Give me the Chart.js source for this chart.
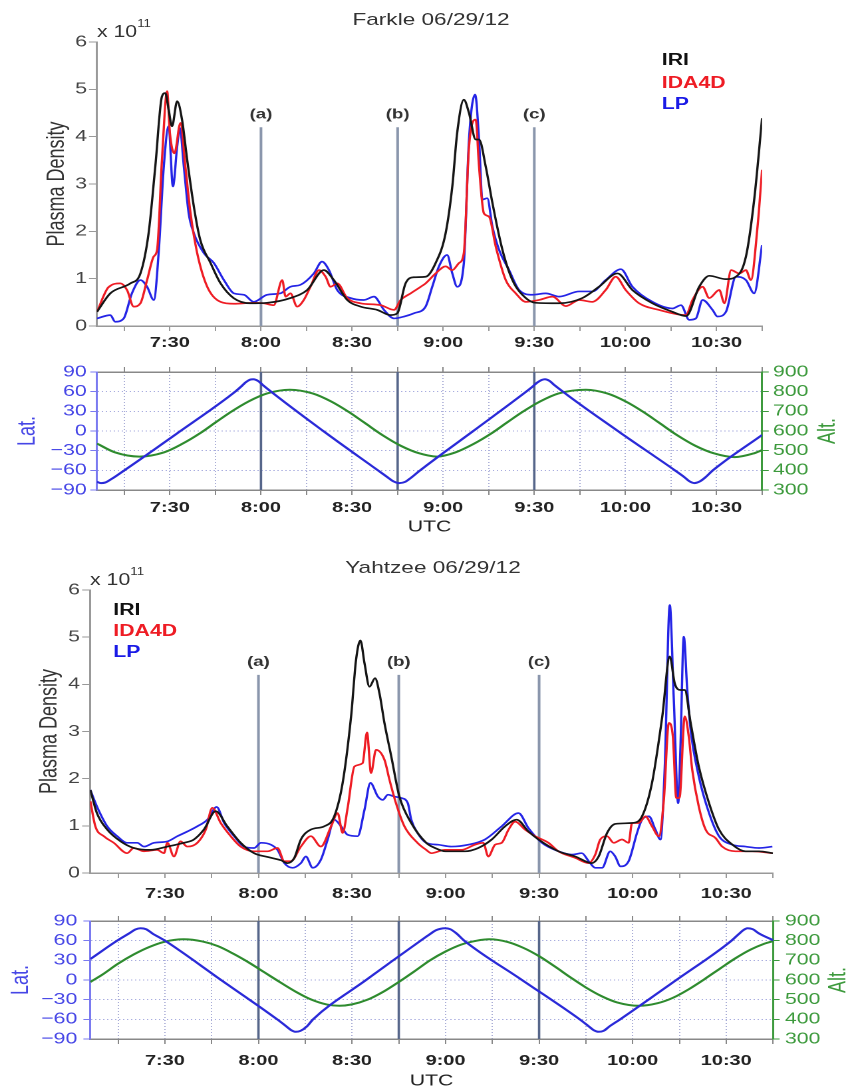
<!DOCTYPE html>
<html><head><meta charset="utf-8">
<script src="https://cdn.jsdelivr.net/npm/chart.js@4"></script>
<style>
html,body{margin:0;padding:0;background:#fff;}
body{width:850px;height:1091px;overflow:hidden;position:relative;font-family:"Liberation Sans",Arial,sans-serif;}
#wrap{position:absolute;left:0;top:0;width:639px;height:1091px;transform:scaleX(1.3302);transform-origin:0 0;}
#wrap canvas{position:absolute;left:0;}
.t{position:absolute;white-space:nowrap;line-height:20px;}
.lg{font-weight:bold;font-size:16px;}
.sup{font-size:10px;position:relative;top:-10px;}
</style></head>
<body><div id="wrap">
<canvas id="c1" width="639" height="360" style="top:0px"></canvas>
<canvas id="c2" width="639" height="185" style="top:355px"></canvas>
<canvas id="c3" width="639" height="360" style="top:545px"></canvas>
<canvas id="c4" width="639" height="186" style="top:905px"></canvas>

<div class="t" style="left:0;width:648px;text-align:center;top:10px;font-size:17px;color:#333">Farkle 06/29/12</div>
<div class="t" style="left:72.9px;top:21.5px;font-size:16px;color:#333">x 10<span class="sup">11</span></div>
<div class="t lg" style="left:497.5px;top:50px;color:#111">IRI</div>
<div class="t lg" style="left:497.5px;top:72.5px;color:#ee1c24">IDA4D</div>
<div class="t lg" style="left:497.5px;top:93.5px;color:#1a1ae6">LP</div>

<div class="t" style="left:0;width:651px;text-align:center;top:558px;font-size:17px;color:#333">Yahtzee 06/29/12</div>
<div class="t" style="left:67.7px;top:569.5px;font-size:16px;color:#333">x 10<span class="sup">11</span></div>
<div class="t lg" style="left:85.2px;top:600px;color:#111">IRI</div>
<div class="t lg" style="left:85.2px;top:620.7px;color:#ee1c24">IDA4D</div>
<div class="t lg" style="left:85.2px;top:641.7px;color:#1a1ae6">LP</div>
</div>
<script>
// ---- time axis (minutes after 7:00 UTC) ----
const X_MIN = 6, X_MAX = 225;
const tickMinutes = [15,30,45,60,75,90,105,120,135,150,165,180,195,210,225];
const markerTimes = [60, 105, 150];
const markerLabels = ['(a)', '(b)', '(c)'];
const markerTop = 4.2, markerLabelY = 4.47;

// ---- Farkle plasma density (x 10^11) ----
const farkleIriT = [6,10.4,17,20.3,23,25.2,27.4,28.5,29.6,30.7,
  32.4,34,35.7,37.9,40,43.4,46.7,51,56.5,62,
  69.7,75.2,80.7,84,88.4,92.8,98.3,102.7,104.9,107.6,
  110.4,114.2,117.5,120.8,123,124.6,126.8,128.5,130.7,131.8,
  134,136.2,139.5,142.8,147.2,150.5,158.2,165.8,171.3,177.4,
  182.3,188.9,195.5,200,204.3,207.6,213.1,216.4,219.7,222.4,225];
const farkleIriV = [0.30,0.69,0.90,1.11,1.96,3.37,4.85,4.92,4.57,4.22,
  4.75,4.36,3.51,2.52,1.82,1.33,0.90,0.59,0.48,0.49,
  0.59,0.76,1.18,0.97,0.55,0.41,0.34,0.23,0.27,0.90,
  1.03,1.04,1.33,1.96,2.95,4.08,4.78,4.50,3.94,3.94,
  3.37,2.60,1.61,0.97,0.59,0.49,0.48,0.59,0.83,1.11,
  0.76,0.48,0.30,0.21,0.83,1.06,0.99,1.04,1.47,2.67,4.39];
const farkleIdaT = [6,9.8,13.7,15.9,18.1,20.3,22.5,24.7,25.8,27.4,
  29.1,30,31.5,33.5,35.1,36.8,39,42.3,46.7,51.1,
  57.6,60.9,64.2,67,68.1,69.7,71.9,74.1,76.3,79.1,
  81.3,82.9,85.1,88.4,92.8,99.4,103.8,106,109.3,112.6,
  114.2,117.5,120.8,123,125.2,126.8,128.5,130.7,131.8,133.4,
  135.1,137.3,140.6,143.9,147.2,151.6,156,160.4,164.8,169.1,
  173.5,176.8,180.1,184.5,191.1,199.9,202.1,205.4,207.6,210.9,
  212.6,214.8,217.5,219.7,221.3,223.5,225];
const farkleIdaV = [0.30,0.82,0.90,0.76,0.41,0.48,0.97,1.47,1.61,3.51,
  4.96,4.08,3.65,4.29,3.37,2.38,1.54,0.83,0.51,0.47,
  0.49,0.48,0.44,0.97,0.62,0.69,0.41,0.55,0.83,1.18,
  1.04,0.83,0.90,0.59,0.48,0.44,0.34,0.55,0.69,0.83,
  0.90,1.11,1.26,1.18,1.33,1.54,3.79,4.36,3.37,2.38,
  2.31,1.68,0.97,0.69,0.51,0.55,0.62,0.42,0.55,0.51,
  0.76,1.04,0.76,0.48,0.34,0.23,0.55,0.83,0.59,0.76,
  0.48,1.18,1.11,1.18,0.97,2.10,3.30];
const farkleLpT = [6,10.4,12,14.8,17.5,20.3,22.5,24.7,26.3,28,
  29.6,31,32.4,33.3,34.6,36.2,37.9,41.2,44.5,47.8,
  51.1,54.4,57.6,62,66.4,69.7,73,77.4,80.1,82.4,
  85.1,89.5,93.9,97.2,100.5,103.8,107.1,110.4,114.2,116.4,
  118.6,121.3,123,124.6,126.8,128.5,130.5,131.8,132.9,134.5,
  136.2,138.4,141.7,145,149.4,153.8,158.2,164.8,169.1,173.5,
  178.5,182.3,188.9,195.5,198.3,201,203.2,205.4,208.7,210.3,
  213.1,216.4,219.7,222.4,225];
const farkleLpV = [0.16,0.23,0.09,0.16,0.69,0.97,0.83,0.55,1.54,3.37,
  4.22,2.95,3.79,4.18,3.37,2.38,1.96,1.54,1.33,0.97,
  0.69,0.66,0.51,0.66,0.69,0.83,0.87,1.11,1.36,1.18,
  0.76,0.59,0.55,0.62,0.34,0.16,0.20,0.27,0.41,0.83,
  1.26,1.50,1.11,0.83,1.33,3.94,4.89,3.94,2.67,2.70,
  2.10,1.61,1.18,0.76,0.66,0.69,0.62,0.73,0.73,0.97,
  1.20,0.83,0.51,0.37,0.44,0.13,0.16,0.55,0.34,0.20,
  0.30,1.04,0.97,0.69,1.71];

// ---- Farkle latitude (deg) and altitude (km) ----
const farkleLatT = [6,7.3,8.8,10.5,12.5,33.5,51.5,53.5,55,56.5,
  57.5,59,60.5,80.5,98.5,101.5,103.5,105.5,107.5,109.5,
  112,129.9,147.3,149.5,151,152.5,153.5,155,156.5,177.5,
  196.3,199.3,201,202.7,204.5,206.5,208.8,225];
const farkleLatV = [-77.5,-79.5,-78.5,-74,-68,0,60,68,74.5,78.5,
  79,76.5,70.5,0,-60,-70,-76.5,-79.5,-77.5,-71,
  -61.5,0,60,68,74,78,79,76.5,70.5,0,
  -60,-70,-76.5,-79.5,-77,-70,-60,-6];
const farkleAltT = [6,12,20,28,34,40,45,50,56,62,
  69.5,77,83,89,94,100,106,112,118,124,
  130,136,141,146,152,158,167,174,180,186,
  191,197,203,209,216,222,225];
const farkleAltV = [536,491,470,491,534,589,643,696,751,791,
  810,791,751,696,643,579,525,487,470,491,
  534,589,643,696,751,791,810,791,751,696,
  643,579,525,487,467,485,503];

// ---- Yahtzee plasma density (x 10^11) ----
const yahtIriT = [6.1,8.2,11.5,15.8,20,25.4,30.8,36.1,39.3,42.5,
  46.3,50,54.3,58.6,62.9,67.2,69.3,71.5,73.6,76.8,
  81.1,84.3,87,89.7,91.3,92.7,94,95.6,97.4,98.8,
  100.4,102.6,105.2,109,113.8,116.6,120,126.2,130.5,134.8,
  139.1,142.8,146.6,149.8,156.2,161.6,166.9,169.1,171.8,174.4,
  179.8,183,186.2,189.5,191.9,193.5,195.3,196.7,198.6,201.2,
  204.5,207.7,212,216.2,220.5,225];
const yahtIriV = [1.76,1.27,0.92,0.67,0.53,0.49,0.56,0.64,0.71,0.92,
  1.31,0.99,0.64,0.42,0.34,0.27,0.21,0.32,0.71,0.92,
  0.99,1.20,1.91,3.32,4.52,4.93,4.45,3.95,4.13,3.81,
  3.18,2.47,1.62,1.06,0.64,0.53,0.46,0.46,0.53,0.71,
  0.99,1.13,0.88,0.71,0.46,0.35,0.21,0.35,0.85,1.04,
  1.06,1.20,1.91,3.32,4.59,4.02,3.88,3.88,3.18,2.26,
  1.48,0.92,0.60,0.46,0.46,0.42];
const yahtIdaT = [6.1,7.7,10.4,13.6,17.9,20,23.3,27.5,29.7,30.8,
  32.9,35,37.2,40.4,43.1,45.2,47.9,51.1,54.3,58.6,
  62.9,66.1,68.3,70.4,73.6,76.8,80,83.3,85.4,87,
  88.6,90.8,93.4,94.8,96.1,97.7,100.4,102,104.1,106.8,
  111,113.8,115.5,119.8,125.1,129.4,132.1,133.7,135.9,138,
  140.2,142.3,145.5,148.7,153,156.2,161.6,165.9,168,169.6,
  171.8,173.9,176.6,178.7,179.8,181.9,184.1,186.2,188.4,190,
  191.6,192.9,194,195,196.7,198,199.1,201.2,203.4,206.6,
  208.7,213,218.4,224.8];
const yahtIdaV = [1.52,0.99,0.78,0.64,0.42,0.53,0.46,0.49,0.42,0.64,
  0.35,0.67,0.56,0.64,0.92,1.38,1.06,0.78,0.56,0.46,
  0.46,0.53,0.25,0.25,0.56,0.78,0.56,0.99,1.27,0.85,
  1.38,2.26,2.33,2.98,2.12,2.61,2.40,1.98,1.48,0.99,
  0.64,0.49,0.42,0.49,0.49,0.60,0.64,0.35,0.60,0.64,
  0.92,1.09,0.92,0.78,0.64,0.46,0.32,0.21,0.39,0.71,
  0.78,0.64,0.71,0.64,1.06,1.06,1.20,0.99,0.78,1.55,
  3.18,2.89,1.59,1.59,3.32,2.89,2.19,1.41,0.92,0.74,
  0.56,0.46,0.46,0.42];
const yahtLpT = [6.1,8.2,11.5,14.7,17.9,21.1,23.3,26.5,30.8,34,
  37.2,40.4,43.6,46.6,49,52.2,55.4,58.6,60.8,64,
  66.1,68.3,70.9,73.6,75.2,77.4,80,82.2,84.3,86.5,
  88.6,91.8,94,95.9,98.3,99.9,101.5,103.6,105.8,107.9,
  109,111,113.8,117.6,121.9,127.3,132.6,138,143.4,146.6,
  150.9,156.2,160.5,163.7,165.9,168,170.2,172.8,174.4,176.1,
  178.7,181.4,183,185.2,187.3,188.9,190.3,191.9,193.2,194.6,
  195.3,196.4,197.5,198.6,201.2,204.5,207.7,212,216.2,220.5,
  224.8];
const yahtLpV = [1.76,1.41,0.99,0.78,0.64,0.64,0.56,0.64,0.67,0.78,
  0.88,0.99,1.13,1.40,1.06,0.78,0.56,0.53,0.64,0.60,
  0.49,0.21,0.11,0.21,0.35,0.11,0.28,0.71,1.13,0.99,
  0.81,0.78,1.34,1.91,1.62,1.55,1.66,1.62,1.59,1.48,
  1.13,0.85,0.64,0.60,0.56,0.60,0.71,0.99,1.27,0.95,
  0.64,0.46,0.39,0.42,0.25,0.11,0.11,0.46,0.35,0.14,
  0.25,0.85,1.13,1.20,0.92,0.71,2.26,5.68,3.67,1.48,
  2.61,5.01,3.88,3.03,2.05,1.27,0.78,0.60,0.56,0.53,
  0.56];

// ---- Yahtzee latitude (deg) and altitude (km) ----
const yahtLatT = [6.1,15,18.5,20.5,22.2,24,26,30,48,66,
  69,70.5,72,73.5,75.5,77.5,94.5,112,115,117,
  119.8,121.5,123.5,126,144.5,163,166,167.5,169.1,170.7,
  172.5,176,194,211.7,214,215.5,216.8,218.5,220.5,225.4];
const yahtLatV = [32,61,71,77,79,77.5,71,60,0,-60,
  -71,-76.5,-79,-77.5,-71,-60,0,60,70,76,
  79,77.5,71,60,0,-60,-71,-76.5,-79,-77.5,
  -71,-60,0,60,70,76,79,77.5,71,60];
const yahtAltT = [6.1,10,15,20,25,30,36,42,47,52,
  57,62,67,72,77,82,86,90,95,100,
  105,110,115,120,125,130,134,140,145,150,
  155,160,165,170,175,182,188,193,198,203,
  208,213,218,222,225.4];
const yahtAltV = [590,628,683,730,768,795,807,796,772,733,
  688,638,588,540,500,475,469,476,500,540,
  590,644,700,745,780,800,807,793,763,721,
  669,614,562,518,486,469,482,510,553,604,
  658,711,756,783,799];

// ---- tick values for the other axes ----
const densityTicks = [0,1,2,3,4,5,6];
const latTicks = [-90,-60,-30,0,30,60,90];
const altTicks = [300,400,500,600,700,800,900];

const FONT = '"Liberation Sans", Arial, sans-serif';
Chart.defaults.font.family = FONT;

function fmt(m){ const h = 7 + Math.floor(m/60), mm = m % 60; return h + ':' + String(mm).padStart(2,'0'); }
function setXTicks(scale){ scale.ticks = tickMinutes.map(v => ({value: v})); }
function pts(t, v){ return t.map((x, i) => ({x: x, y: v[i]})); }
function minus(v){ return String(v).replace('-', '\u2212'); }

const markerPlugin = {
  id: 'markers',
  beforeDatasetsDraw(chart, args, opts) {
    const {ctx, chartArea, scales} = chart;
    const xs = scales.x, ys = scales.y;
    ctx.save();
    markerTimes.forEach((t, i) => {
      const x = xs.getPixelForValue(t);
      const yTop = opts.full ? chartArea.top : ys.getPixelForValue(markerTop);
      ctx.strokeStyle = opts.color;
      ctx.lineWidth = opts.width;
      ctx.beginPath(); ctx.moveTo(x, yTop); ctx.lineTo(x, chartArea.bottom); ctx.stroke();
      if (!opts.full) {
        ctx.fillStyle = '#333';
        ctx.font = 'bold 14px ' + FONT;
        ctx.textAlign = 'center'; ctx.textBaseline = 'middle';
        ctx.fillText(markerLabels[i], x, ys.getPixelForValue(markerLabelY));
      }
    });
    ctx.restore();
  },
  afterDraw(chart, args, opts) {
    if (!opts.altText) return;
    const {ctx, chartArea, scales} = chart;
    const s = scales.y2;
    ctx.save();
    ctx.translate(s.right - opts.altOffset, (chartArea.top + chartArea.bottom) / 2);
    ctx.rotate(-Math.PI / 2);
    ctx.fillStyle = '#3d9a3d';
    ctx.font = '18px ' + FONT;
    ctx.textAlign = 'center'; ctx.textBaseline = 'middle';
    ctx.fillText(opts.altText, 0, 0);
    ctx.restore();
  }
};

function xAxisBase(g) {
  return {
    type: 'linear', min: X_MIN, max: X_MAX, afterBuildTicks: setXTicks,
    afterFit: s => { s.height = g.xh; },
    ticks: { autoSkip: false, maxRotation: 0, minRotation: 0,
      callback: v => (v % 30 === 0 ? fmt(v) : ''),
      font: { size: 15, weight: 'bold' }, color: '#222', padding: g.xpad }
  };
}

function densityChart(id, series, g) {
  const x = xAxisBase(g);
  x.grid = { display: true, drawOnChartArea: false, drawTicks: true, tickLength: 5, tickColor: '#999' };
  x.border = { display: true, color: '#999', width: 1.5 };
  new Chart(document.getElementById(id), {
    type: 'line',
    data: { datasets: series.map(s => ({
      label: s.label, data: pts(s.t, s.v), borderColor: s.color, borderWidth: 1.7,
      pointRadius: 0, cubicInterpolationMode: 'monotone', fill: false })) },
    options: {
      responsive: false, animation: false, devicePixelRatio: 2,
      layout: { autoPadding: false, padding: { top: g.top, right: g.right, left: 0, bottom: 0 } },
      plugins: { legend: { display: false }, tooltip: { enabled: false },
        markers: { full: false, color: '#8a96ac', width: 2 } },
      scales: {
        x: x,
        y: { min: 0, max: 6, afterFit: s => { s.width = g.left; },
          afterBuildTicks: s => { s.ticks = densityTicks.map(v => ({value: v})); },
          ticks: { autoSkip: false, font: { size: 16 }, color: '#444', padding: g.ypad },
          grid: { drawOnChartArea: false, drawTicks: true, tickLength: 6, tickColor: '#999' },
          border: { color: '#999', width: 1.5 },
          title: { display: true, text: 'Plasma Density', font: { size: 18 }, color: '#333',
            padding: { top: g.ytp, bottom: 0 } } }
      }
    },
    plugins: [markerPlugin]
  });
}

function orbitChart(id, latT, latV, altT, altV, g) {
  const x = xAxisBase(g);
  x.position = 'bottom';
  x.grid = { display: true, color: '#a9add6', lineWidth: 1, drawTicks: true, tickLength: 5, tickColor: '#888' };
  x.border = { display: true, color: '#888', width: 1.5, dash: [1, 2] };
  x.title = { display: true, text: 'UTC', font: { size: 16 }, color: '#222', padding: { top: 0, bottom: g.utcPad } };
  new Chart(document.getElementById(id), {
    type: 'line',
    data: { datasets: [
      { label: 'Lat.', data: pts(latT, latV), yAxisID: 'y', xAxisID: 'x', borderColor: '#2a2ad8',
        borderWidth: 2, pointRadius: 0, cubicInterpolationMode: 'monotone', fill: false },
      { label: 'Alt.', data: pts(altT, altV), yAxisID: 'y2', xAxisID: 'x', borderColor: '#2e8b2e',
        borderWidth: 2, pointRadius: 0, cubicInterpolationMode: 'monotone', fill: false }
    ] },
    options: {
      responsive: false, animation: false, devicePixelRatio: 2,
      layout: { autoPadding: false, padding: 0 },
      plugins: { legend: { display: false }, tooltip: { enabled: false },
        markers: { full: true, color: '#56668a', width: 1.8, altText: 'Alt.', altOffset: g.altOffset } },
      scales: {
        x: x,
        xTop: { type: 'linear', position: 'top', min: X_MIN, max: X_MAX, afterBuildTicks: setXTicks,
          afterFit: s => { s.height = g.top; },
          ticks: { display: false },
          grid: { display: true, drawOnChartArea: false, drawTicks: true, tickLength: 5, tickColor: '#888' },
          border: { display: true, color: '#888', width: 1.5 } },
        y: { position: 'left', min: -90, max: 90, afterFit: s => { s.width = g.left; },
          afterBuildTicks: s => { s.ticks = latTicks.map(v => ({value: v})); },
          ticks: { autoSkip: false, callback: v => minus(v), font: { size: 16 }, color: '#4646e6', padding: g.ypad },
          grid: { color: '#a9addf', drawTicks: true, tickLength: 5, tickColor: '#7a7af0' },
          border: { color: '#7a7af0', width: 1.5, dash: [1, 2] },
          title: { display: true, text: 'Lat.', font: { size: 18 }, color: '#4646e6',
            padding: { top: g.latPad, bottom: 0 } } },
        y2: { position: 'right', min: 300, max: 900, afterFit: s => { s.width = g.right; },
          afterBuildTicks: s => { s.ticks = altTicks.map(v => ({value: v})); },
          ticks: { autoSkip: false, font: { size: 16 }, color: '#3d9a3d', padding: g.y2pad },
          grid: { drawOnChartArea: false, drawTicks: true, tickLength: 5, tickColor: '#3d9a3d' },
          border: { color: '#3d9a3d', width: 1.5 } }
      }
    },
    plugins: [markerPlugin]
  });
}

const C_IRI = '#151515', C_IDA = '#ee1c24', C_LP = '#2424e6';

densityChart('c1', [
  { label: 'IRI', t: farkleIriT, v: farkleIriV, color: C_IRI },
  { label: 'IDA4D', t: farkleIdaT, v: farkleIdaV, color: C_IDA },
  { label: 'LP', t: farkleLpT, v: farkleLpV, color: C_LP }
], { top: 42, right: 66.1, left: 72.9, xh: 34, xpad: 3, ypad: 1.5, ytp: 32.1 });

orbitChart('c2', farkleLatT, farkleLatV, farkleAltT, farkleAltV,
  { top: 17, xh: 50, left: 72.9, right: 66.1, xpad: 4, ypad: 2.7, y2pad: 3.2, utcPad: 3.4, latPad: 10.2, altOffset: 16.5 });

densityChart('c3', [
  { label: 'IRI', t: yahtIriT, v: yahtIriV, color: C_IRI },
  { label: 'IDA4D', t: yahtIdaT, v: yahtIdaV, color: C_IDA },
  { label: 'LP', t: yahtLpT, v: yahtLpV, color: C_LP }
], { top: 45, right: 57.9, left: 67.7, xh: 32, xpad: 7, ypad: 1.6, ytp: 26.8 });

orbitChart('c4', yahtLatT, yahtLatV, yahtAltT, yahtAltV,
  { top: 16, xh: 52, left: 67.7, right: 57.9, xpad: 8, ypad: 4.6, y2pad: 4, utcPad: 0.4, latPad: 5, altOffset: 8.3 });
</script>
</body></html>
